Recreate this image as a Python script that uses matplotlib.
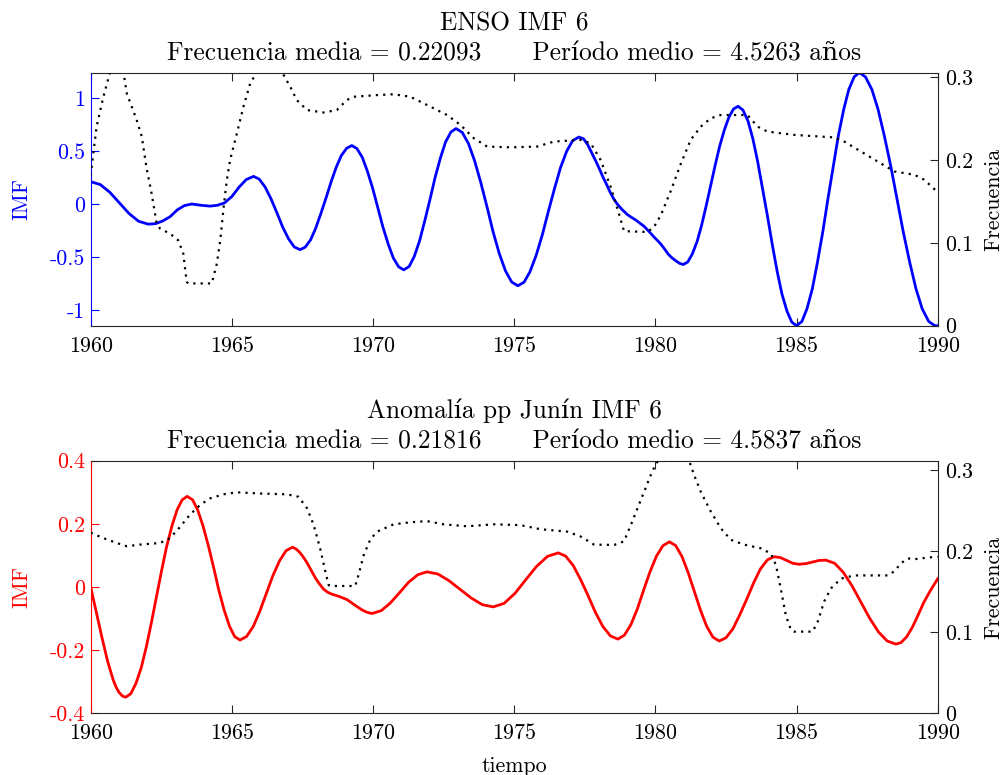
import matplotlib
matplotlib.use('Agg')
import matplotlib.pyplot as plt

plt.rcParams['font.family'] = ['cmr10', 'DejaVu Serif']
plt.rcParams['axes.unicode_minus'] = False

# --- ENSO IMF 6 (top) ---
enso_t = [1960.00, 1960.34, 1960.68, 1961.02, 1961.36, 1961.70, 1962.04,
          1962.30, 1962.55, 1962.81, 1963.07, 1963.32, 1963.58,
          1963.90, 1964.23,
          1964.49, 1964.74, 1965.00, 1965.26, 1965.51, 1965.77,
          1965.97, 1966.18, 1966.39, 1966.60, 1966.80, 1967.01, 1967.21, 1967.42,
          1967.60, 1967.79, 1967.97, 1968.15, 1968.34, 1968.52, 1968.70, 1968.88,
          1969.07, 1969.25,
          1969.43, 1969.62, 1969.80, 1969.99, 1970.17, 1970.35, 1970.54, 1970.72,
          1970.91, 1971.09,
          1971.28, 1971.46, 1971.65, 1971.83, 1972.02, 1972.20, 1972.39, 1972.57,
          1972.76, 1972.94,
          1973.16, 1973.38, 1973.60, 1973.82, 1974.04, 1974.25, 1974.47, 1974.69,
          1974.91, 1975.13,
          1975.35, 1975.56, 1975.78, 1976.00, 1976.21, 1976.43, 1976.64, 1976.86,
          1977.07, 1977.29,
          1977.45, 1977.60, 1977.75, 1977.88, 1978.02, 1978.15, 1978.28, 1978.40,
          1978.52, 1978.65, 1978.83, 1979.01, 1979.15, 1979.30, 1979.45, 1979.60,
          1979.78, 1979.95, 1980.08, 1980.20, 1980.33, 1980.45, 1980.58, 1980.70,
          1980.85, 1980.99,
          1981.15, 1981.31, 1981.48, 1981.64, 1981.80, 1981.96, 1982.12, 1982.28,
          1982.45, 1982.61, 1982.77, 1982.93,
          1983.10, 1983.28, 1983.45, 1983.62, 1983.79, 1983.97, 1984.14, 1984.31,
          1984.48, 1984.66, 1984.83, 1985.00,
          1985.19, 1985.37, 1985.56, 1985.74, 1985.93, 1986.11, 1986.30, 1986.48,
          1986.67, 1986.85, 1987.04, 1987.22,
          1987.44, 1987.67, 1987.89, 1988.11, 1988.34, 1988.56, 1988.78, 1989.01,
          1989.23, 1989.45, 1989.68, 1989.90, 1990.00]
enso_imf = [0.21, 0.183, 0.11, 0.01, -0.09, -0.163, -0.19,
            -0.185, -0.16, -0.12, -0.055, -0.015, 0.0,
            -0.012, -0.02,
            -0.012, 0.01, 0.07, 0.16, 0.23, 0.26,
            0.234, 0.159, 0.047, -0.085, -0.217, -0.329, -0.404, -0.43,
            -0.406, -0.337, -0.228, -0.092, 0.06, 0.212, 0.348, 0.457,
            0.526, 0.55,
            0.522, 0.439, 0.309, 0.146, -0.035, -0.216, -0.379, -0.509,
            -0.592, -0.62,
            -0.588, -0.494, -0.346, -0.161, 0.045, 0.251, 0.436, 0.584,
            0.678, 0.71,
            0.674, 0.569, 0.405, 0.199, -0.03, -0.259, -0.465, -0.629,
            -0.734, -0.77,
            -0.736, -0.637, -0.482, -0.287, -0.07, 0.147, 0.342, 0.497,
            0.596, 0.63,
            0.615, 0.56, 0.48, 0.41, 0.33, 0.25, 0.18, 0.11,
            0.05, 0.0, -0.055, -0.10, -0.125, -0.15, -0.18, -0.21,
            -0.26, -0.31, -0.345, -0.38, -0.425, -0.47, -0.505, -0.53,
            -0.558, -0.57,
            -0.545, -0.47, -0.352, -0.198, -0.017, 0.175, 0.367, 0.547,
            0.702, 0.82, 0.895, 0.92,
            0.885, 0.782, 0.618, 0.404, 0.154, -0.113, -0.38, -0.629,
            -0.844, -1.008, -1.111, -1.146,
            -1.106, -0.986, -0.798, -0.55, -0.262, 0.045, 0.353, 0.641,
            0.889, 1.077, 1.196, 1.237,
            1.197, 1.077, 0.889, 0.641, 0.353, 0.046, -0.262, -0.55,
            -0.798, -0.986, -1.105, -1.146, -1.146]

enso_ft = [1960.0, 1960.21, 1960.45, 1960.69, 1961.16, 1961.28, 1961.63, 1961.81,
           1961.98, 1962.16, 1962.34, 1962.46, 1962.81, 1963.1, 1963.28, 1963.4,
           1963.46, 1964.29, 1964.47, 1964.59, 1964.71, 1964.82, 1964.94, 1965.18,
           1965.41, 1965.65, 1965.89, 1966.77, 1967.07, 1967.3, 1967.66, 1968.25,
           1968.72, 1969.07, 1969.31, 1970.14, 1970.73, 1971.32, 1971.92, 1972.62,
           1973.1, 1973.57, 1974.04, 1974.87, 1975.82, 1976.41, 1977.35, 1977.71,
           1978.06, 1978.42, 1978.71, 1978.89, 1979.72, 1979.95, 1980.19, 1980.54,
           1980.9, 1981.25, 1981.61, 1981.96, 1982.32, 1983.26, 1983.62, 1983.97,
           1984.92, 1986.33, 1986.69, 1987.28, 1987.87, 1988.46, 1989.17, 1989.52,
           1990.0]
enso_freq = [0.1815, 0.24, 0.276, 0.306, 0.306, 0.28, 0.248, 0.228,
             0.19, 0.159, 0.123, 0.117, 0.111, 0.103, 0.087, 0.053,
             0.051, 0.051, 0.075, 0.103, 0.143, 0.175, 0.2, 0.232,
             0.264, 0.292, 0.306, 0.306, 0.288, 0.272, 0.26, 0.257,
             0.26, 0.272, 0.276, 0.278, 0.279, 0.276, 0.266, 0.254,
             0.242, 0.226, 0.216, 0.215, 0.216, 0.222, 0.224, 0.22,
             0.2, 0.167, 0.135, 0.114, 0.113, 0.119, 0.133, 0.162,
             0.195, 0.224, 0.24, 0.25, 0.254, 0.254, 0.24, 0.234,
             0.23, 0.227, 0.222, 0.21, 0.198, 0.186, 0.182, 0.176,
             0.161]

# --- Anomalia pp Junin IMF 6 (bottom) ---
pp_t = [1960.00, 1960.20, 1960.40, 1960.60, 1960.80, 1960.90, 1961.00, 1961.12,
        1961.24,
        1961.42, 1961.60, 1961.79, 1961.97, 1962.15, 1962.33, 1962.51, 1962.69,
        1962.88, 1963.06, 1963.24, 1963.42,
        1963.61, 1963.79, 1963.98, 1964.17, 1964.36, 1964.54, 1964.73, 1964.92,
        1965.10, 1965.29,
        1965.52, 1965.76, 1965.99, 1966.22, 1966.45, 1966.69, 1966.92, 1967.15,
        1967.28, 1967.40, 1967.53, 1967.66, 1967.80, 1967.95, 1968.10, 1968.25,
        1968.40, 1968.55, 1968.80, 1969.08, 1969.35, 1969.60, 1969.78, 1969.96,
        1970.29, 1970.61, 1970.94, 1971.26, 1971.59, 1971.91,
        1972.30, 1972.69, 1973.09, 1973.48, 1973.87, 1974.26,
        1974.64, 1975.03, 1975.41, 1975.79, 1976.18, 1976.56,
        1976.82, 1977.09, 1977.35, 1977.62, 1977.88, 1978.14, 1978.41, 1978.67,
        1978.90, 1979.13, 1979.36, 1979.58, 1979.81, 1980.04, 1980.27, 1980.50,
        1980.72, 1980.94, 1981.16, 1981.38, 1981.60, 1981.82, 1982.04, 1982.26,
        1982.50, 1982.75, 1982.99, 1983.24, 1983.48, 1983.72, 1983.97, 1984.21,
        1984.43, 1984.65, 1984.87, 1985.09, 1985.33, 1985.57, 1985.80, 1986.04,
        1986.35, 1986.66, 1986.97, 1987.28, 1987.59, 1987.90, 1988.21, 1988.52,
        1988.70, 1988.90, 1989.10, 1989.30, 1989.50, 1989.75, 1990.00]
pp_imf = [0.0, -0.08, -0.16, -0.235, -0.295, -0.317, -0.333, -0.345,
          -0.349,
          -0.338, -0.306, -0.256, -0.19, -0.113, -0.031, 0.051, 0.128,
          0.194, 0.244, 0.276, 0.287,
          0.276, 0.244, 0.193, 0.13, 0.06, -0.011, -0.074, -0.125,
          -0.157, -0.168,
          -0.157, -0.125, -0.077, -0.021, 0.035, 0.083, 0.115, 0.126,
          0.12, 0.11, 0.095, 0.077, 0.054, 0.03, 0.01, -0.007,
          -0.017, -0.023, -0.03, -0.04, -0.057, -0.072, -0.08, -0.084,
          -0.075, -0.051, -0.018, 0.015, 0.039, 0.048,
          0.041, 0.02, -0.008, -0.035, -0.056, -0.063,
          -0.052, -0.02, 0.023, 0.065, 0.097, 0.108,
          0.098, 0.068, 0.024, -0.028, -0.081, -0.125, -0.155, -0.165,
          -0.153, -0.12, -0.07, -0.011, 0.048, 0.098, 0.131, 0.143,
          0.131, 0.097, 0.046, -0.014, -0.074, -0.125, -0.159, -0.171,
          -0.161, -0.132, -0.088, -0.038, 0.013, 0.057, 0.086, 0.096,
          0.093, 0.084, 0.075, 0.072, 0.074, 0.079, 0.084, 0.085,
          0.075, 0.046, 0.003, -0.048, -0.099, -0.142, -0.171, -0.181,
          -0.176, -0.158, -0.128, -0.09, -0.05, -0.01, 0.026]

pp_ft = [1960.0, 1960.45, 1960.92, 1961.28, 1961.75, 1962.46, 1962.81, 1963.17,
         1963.52, 1963.88, 1964.23, 1964.7, 1965.18, 1966.0, 1966.95, 1967.36,
         1967.66, 1967.9, 1968.13, 1968.31, 1968.43, 1968.49, 1969.37, 1969.49,
         1969.67, 1969.9, 1970.14, 1970.73, 1971.32, 1971.91, 1972.5, 1973.33,
         1974.28, 1975.22, 1975.93, 1976.88, 1977.35, 1977.83, 1978.54, 1978.89,
         1979.13, 1979.37, 1979.6, 1979.84, 1980.02, 1980.13, 1981.19, 1981.37,
         1981.61, 1981.96, 1982.32, 1982.67, 1983.14, 1983.73, 1984.09, 1984.27,
         1984.44, 1984.62, 1984.8, 1984.92, 1985.57, 1985.75, 1985.98, 1986.22,
         1986.57, 1987.05, 1988.23, 1988.46, 1988.7, 1988.94, 1989.17, 1989.64,
         1990.0]
pp_freq = [0.2227, 0.216, 0.21, 0.206, 0.208, 0.21, 0.216, 0.23,
           0.245, 0.257, 0.265, 0.27, 0.2725, 0.271, 0.27, 0.267,
           0.253, 0.232, 0.203, 0.175, 0.158, 0.157, 0.157, 0.171,
           0.195, 0.214, 0.224, 0.233, 0.2355, 0.237, 0.233, 0.2306,
           0.233, 0.232, 0.227, 0.224, 0.218, 0.208, 0.2076, 0.212,
           0.232, 0.253, 0.273, 0.294, 0.308, 0.312, 0.312, 0.294,
           0.273, 0.249, 0.228, 0.214, 0.208, 0.2035, 0.197, 0.183,
           0.154, 0.121, 0.103, 0.1007, 0.1007, 0.113, 0.138, 0.154,
           0.166, 0.17, 0.17, 0.175, 0.185, 0.191, 0.19, 0.192,
           0.193]

xticks = [1960, 1965, 1970, 1975, 1980, 1985, 1990]
enso_yticks = [-1, -0.5, 0, 0.5, 1]
enso_ylabels = ['-1', '-0.5', '0', '0.5', '1']
pp_yticks = [-0.4, -0.2, 0, 0.2, 0.4]
pp_ylabels = ['-0.4', '-0.2', '0', '0.2', '0.4']
freq_ticks = [0, 0.1, 0.2, 0.3]
freq_labels = ['0', '0.1', '0.2', '0.3']

enso_title = ('ENSO IMF 6\nFrecuencia media = 0.22093'
              '      Período medio = 4.5263 años')
pp_title = ('Anomalía pp Junín IMF 6\nFrecuencia media = 0.21816'
            '      Período medio = 4.5837 años')

FS = 15.8
FT = 18.3
AXC = '#262626'


def panel(ax, t, v, ft, fv, color, title, ylim, yt, yl, rtop):
    ax.plot(t, v, color=color, lw=2, solid_joinstyle='round')
    ax.set_xlim(1960, 1990)
    ax.set_ylim(*ylim)
    ax.set_xticks(xticks)
    ax.set_xticklabels([str(x) for x in xticks], fontsize=FS)
    ax.set_yticks(yt)
    ax.set_yticklabels(yl, fontsize=FS)
    ax.tick_params(axis='x', direction='in', length=6, width=0.8,
                   colors=AXC, labelcolor='k', top=True, pad=7.5)
    ax.tick_params(axis='y', direction='in', length=6, width=0.8,
                   colors=color, pad=4)
    for s in ['top', 'bottom', 'right']:
        ax.spines[s].set_color(AXC)
        ax.spines[s].set_linewidth(0.8)
    ax.spines['left'].set_color(color)
    ax.spines['left'].set_linewidth(0.8)
    ax.set_ylabel('IMF', color=color, fontsize=FS, labelpad=13)
    ax.set_title(title, fontsize=FT, linespacing=1.36, pad=8.5)

    axr = ax.twinx()
    axr.plot(ft, fv, color='k', ls=(0, (1, 2.3)), lw=1.6)
    axr.set_ylim(0, rtop)
    axr.set_yticks(freq_ticks)
    axr.set_yticklabels(freq_labels, fontsize=FS)
    axr.tick_params(axis='y', direction='in', length=6, width=0.8,
                    colors=AXC, labelcolor='k', pad=5)
    for s in axr.spines.values():
        s.set_visible(False)
    axr.set_ylabel('Frecuencia', fontsize=FS, labelpad=8)
    return axr


fig = plt.figure(figsize=(10.03, 7.75), dpi=100)
ax1 = fig.add_axes([0.0904, 0.5797, 0.8445, 0.3265])
ax2 = fig.add_axes([0.0904, 0.0796, 0.8445, 0.3260])

panel(ax1, enso_t, enso_imf, enso_ft, enso_freq, 'blue', enso_title,
      (-1.146, 1.236), enso_yticks, enso_ylabels, 0.305)
panel(ax2, pp_t, pp_imf, pp_ft, pp_freq, 'red', pp_title,
      (-0.4, 0.4), pp_yticks, pp_ylabels, 0.3115)
ax2.set_xlabel('tiempo', fontsize=FS, labelpad=9.5)

fig.savefig('out.png', dpi=100)
